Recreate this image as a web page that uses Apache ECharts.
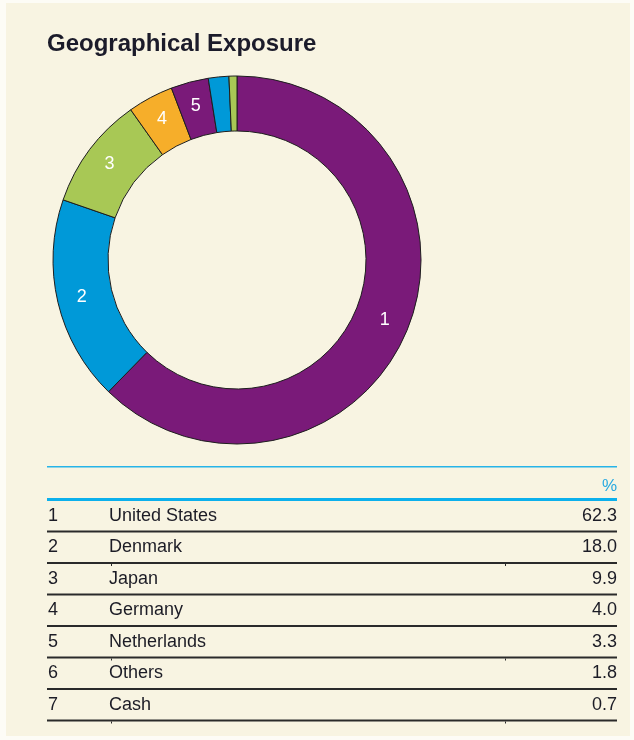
<!DOCTYPE html>
<html>
<head>
<meta charset="utf-8">
<script src="https://cdn.jsdelivr.net/npm/echarts@6/dist/echarts.min.js"></script>
<style>
  html, body { margin: 0; padding: 0; background: #fdfcf6; }
  #chart { width: 634px; height: 740px; }
</style>
</head>
<body>
<div id="chart"></div>
<script>
// Geographical exposure of the fund, in percent
const ranks = ['1', '2', '3', '4', '5', '6', '7'];
const countries = ['United States', 'Denmark', 'Japan', 'Germany', 'Netherlands', 'Others', 'Cash'];
const shares = [62.3, 18.0, 9.9, 4.0, 3.3, 1.8, 0.7];
const sliceColors = ['#7a1a79', '#0099d8', '#a8c855', '#f6ae2a', '#7a1a79', '#0099d8', '#a8c855'];
const unitLabel = '%';

const chart = echarts.init(document.getElementById('chart'), null, { renderer: 'canvas' });

const tableLeft = 47, tableRight = 617;
const rowTop = 501, rowH = 31.5;
const font = 'Liberation Sans, Arial, sans-serif';
const textColor = '#1c1c26';

const graphics = [
  // panel background
  { type: 'rect', z: -10, shape: { x: 6, y: 3, width: 624, height: 733 }, style: { fill: '#f8f4e2' } },
  // table header rules
  { type: 'rect', shape: { x: tableLeft, y: 466, width: tableRight - tableLeft, height: 1.5 }, style: { fill: '#27b4e8' } },
  { type: 'text', style: { x: tableRight, y: 486, text: unitLabel, fill: '#27a9e1', font: '17px ' + font, align: 'right', verticalAlign: 'middle' } },
  { type: 'rect', shape: { x: tableLeft, y: 498, width: tableRight - tableLeft, height: 3 }, style: { fill: '#0cb0ec' } }
];

countries.forEach(function (name, i) {
  const top = rowTop + i * rowH;
  const mid = top + 15;
  const rowFont = '18px ' + font;
  graphics.push(
    { type: 'text', style: { x: 48, y: mid, text: ranks[i], fill: textColor, font: rowFont, verticalAlign: 'middle' } },
    { type: 'text', style: { x: 109, y: mid, text: name, fill: textColor, font: rowFont, verticalAlign: 'middle' } },
    { type: 'text', style: { x: tableRight, y: mid, text: shares[i].toFixed(1), fill: textColor, font: rowFont, align: 'right', verticalAlign: 'middle' } },
    { type: 'rect', shape: { x: tableLeft, y: top + rowH - 2, width: tableRight - tableLeft, height: 2 }, style: { fill: '#2a2a2a' } }
  );
  if (i === 1 || i === 4 || i === 6) {
    // small column ticks under some rows
    graphics.push(
      { type: 'rect', shape: { x: 111, y: top + rowH, width: 1, height: 2 }, style: { fill: '#2a2a2a' } },
      { type: 'rect', shape: { x: 505, y: top + rowH, width: 1, height: 2 }, style: { fill: '#2a2a2a' } }
    );
  }
});

chart.setOption({
  backgroundColor: 'transparent',
  animation: false,
  title: {
    text: 'Geographical Exposure',
    left: 42,
    top: 27,
    textStyle: { fontFamily: font, fontSize: 24, fontWeight: 'bold', color: '#1b1b2a' }
  },
  graphic: graphics,
  series: [{
    type: 'pie',
    center: [237, 260],
    radius: [129, 184],
    startAngle: 90,
    clockwise: true,
    avoidLabelOverlap: false,
    silent: true,
    itemStyle: { borderColor: '#1e1e1e', borderWidth: 1 },
    label: {
      show: true,
      position: 'inside',
      color: '#ffffff',
      fontFamily: font,
      fontSize: 18,
      formatter: function (p) { return p.value >= 3 ? ranks[p.dataIndex] : ''; }
    },
    labelLine: { show: false },
    data: shares.map(function (v, i) {
      return { value: v, name: countries[i], itemStyle: { color: sliceColors[i] } };
    })
  }]
});
</script>
</body>
</html>
